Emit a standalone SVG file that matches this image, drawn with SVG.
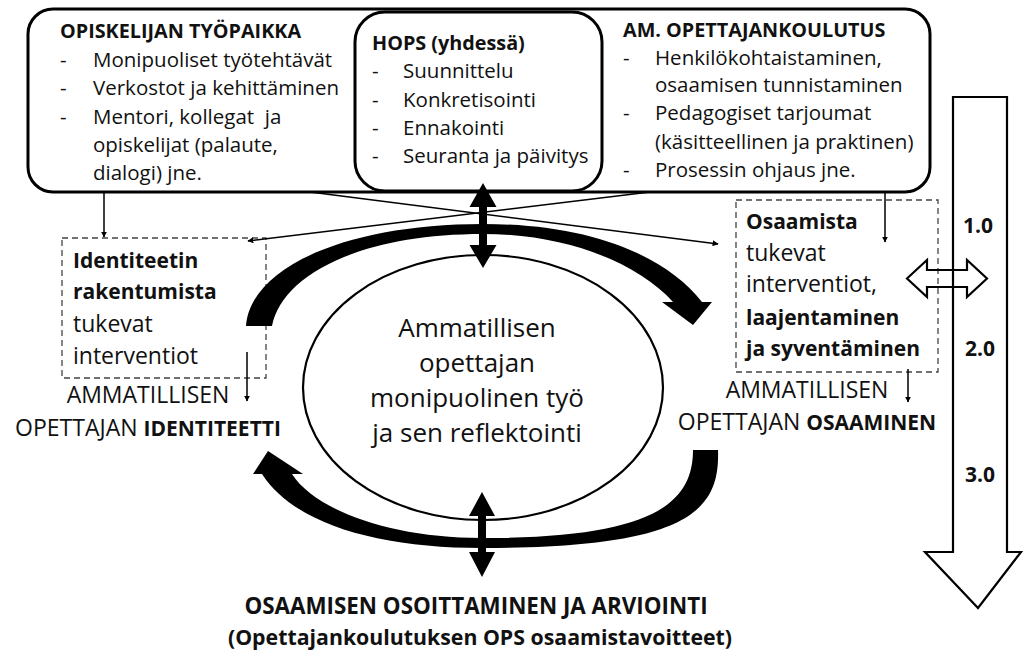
<svg xmlns="http://www.w3.org/2000/svg" width="1024" height="652" viewBox="0 0 1024 652">
<style>
text{font-family:"Open Sans","Noto Sans","DejaVu Sans",sans-serif;fill:#111}
.hd{font-size:19.8px;font-weight:bold}
.it{font-size:20.5px}
.md{font-size:23px}
.mb{font-size:21px;font-weight:bold}
.ct{font-size:26px}
.bt1{font-size:22.4px;font-weight:bold}
.bt2{font-size:21.3px;font-weight:bold}
.num{font-size:21px;font-weight:bold}
.frame{fill:#fff;stroke:#000;stroke-width:3}
.dash{fill:none;stroke:#444;stroke-width:1.3;stroke-dasharray:6 4}
.thin{fill:none;stroke:#000;stroke-width:1.5}
.solid{fill:#000;stroke:none}
.hollow{fill:none;stroke:#000;stroke-width:2.2;stroke-linejoin:miter}
</style>
<defs>
<marker id="ah" viewBox="0 0 10 10" refX="9" refY="5" markerWidth="6" markerHeight="6" orient="auto" markerUnits="userSpaceOnUse">
<path d="M0,0 L10,5 L0,10 Z" fill="#000"/>
</marker>
</defs>
<rect width="1024" height="652" fill="#fff"/>

<g id="top-frame">
<rect class="frame" x="28" y="9" width="902" height="183" rx="25" ry="25"/>
</g>

<g id="box-workplace">
<text class="hd" x="60" y="38">OPISKELIJAN TYÖPAIKKA</text>
<text class="it" x="60" y="67">-</text><text class="it" x="93" y="67">Monipuoliset työtehtävät</text>
<text class="it" x="60" y="95">-</text><text class="it" x="93" y="95">Verkostot ja kehittäminen</text>
<text class="it" x="60" y="124">-</text><text class="it" x="93" y="124" xml:space="preserve">Mentori, kollegat  ja</text>
<text class="it" x="93" y="152">opiskelijat (palaute,</text>
<text class="it" x="93" y="180">dialogi) jne.</text>
</g>

<g id="box-hops">
<rect class="frame" x="355" y="12" width="247" height="179" rx="30" ry="30"/>
<text class="hd" x="372" y="50">HOPS (yhdessä)</text>
<text class="it" x="372" y="78">-</text><text class="it" x="403" y="78">Suunnittelu</text>
<text class="it" x="372" y="107">-</text><text class="it" x="403" y="107">Konkretisointi</text>
<text class="it" x="372" y="135">-</text><text class="it" x="403" y="135">Ennakointi</text>
<text class="it" x="372" y="163">-</text><text class="it" x="403" y="163">Seuranta ja päivitys</text>
</g>

<g id="box-training">
<text class="hd" x="623" y="37">AM. OPETTAJANKOULUTUS</text>
<text class="it" x="623" y="65">-</text><text class="it" x="655" y="65">Henkilökohtaistaminen,</text>
<text class="it" x="655" y="92">osaamisen tunnistaminen</text>
<text class="it" x="623" y="120">-</text><text class="it" x="655" y="120">Pedagogiset tarjoumat</text>
<text class="it" x="655" y="149">(käsitteellinen ja praktinen)</text>
<text class="it" x="623" y="177">-</text><text class="it" x="655" y="177">Prosessin ohjaus jne.</text>
</g>

<g id="box-identity">
<rect class="dash" x="62" y="238" width="204" height="140"/>
<text class="mb" x="73" y="268">Identiteetin</text>
<text class="mb" x="73" y="299">rakentumista</text>
<text class="md" x="73" y="332">tukevat</text>
<text class="md" x="73" y="364">interventiot</text>
</g>

<g id="box-competence">
<rect class="dash" x="736" y="200" width="202" height="172"/>
<text class="mb" x="746" y="229">Osaamista</text>
<text class="md" x="746" y="261">tukevat</text>
<text class="md" x="746" y="292">interventiot,</text>
<text class="mb" x="746" y="325">laajentaminen</text>
<text class="mb" x="746" y="356">ja syventäminen</text>
</g>

<g id="label-identity">
<text class="md" x="148" y="403" text-anchor="middle">AMMATILLISEN</text>
<text class="md" x="148" y="436" text-anchor="middle">OPETTAJAN <tspan class="mb">IDENTITEETTI</tspan></text>
</g>

<g id="label-competence">
<text class="md" x="807" y="398" text-anchor="middle">AMMATILLISEN</text>
<text class="md" x="807" y="430" text-anchor="middle">OPETTAJAN <tspan class="mb">OSAAMINEN</tspan></text>
</g>

<g id="center">
<ellipse cx="483" cy="387.5" rx="180" ry="132.5" fill="none" stroke="#000" stroke-width="2.2"/>
<text class="ct" x="477" y="337" text-anchor="middle">Ammatillisen</text>
<text class="ct" x="477" y="372" text-anchor="middle">opettajan</text>
<text class="ct" x="477" y="407" text-anchor="middle">monipuolinen työ</text>
<text class="ct" x="477" y="442" text-anchor="middle">ja sen reflektointi</text>
</g>

<g id="bottom-label">
<text class="bt1" x="476" y="614" text-anchor="middle">OSAAMISEN OSOITTAMINEN JA ARVIOINTI</text>
<text class="bt2" x="480" y="645" text-anchor="middle">(Opettajankoulutuksen OPS osaamistavoitteet)</text>
</g>

<g id="scale-arrow">
<polygon class="hollow" points="953,97 1007,97 1007,552 1021,552 978,608 925,552 953,552"/>
<text class="num" x="963" y="233">1.0</text>
<text class="num" x="965" y="356">2.0</text>
<text class="num" x="965" y="482">3.0</text>
</g>

<g id="connectors">
<line class="thin" x1="104" y1="193" x2="104" y2="237" marker-end="url(#ah)"/>
<line class="thin" x1="885" y1="193" x2="885" y2="242" marker-end="url(#ah)"/>
<line class="thin" x1="310" y1="192" x2="718" y2="244" marker-end="url(#ah)"/>
<line class="thin" x1="650" y1="192" x2="248" y2="241" marker-end="url(#ah)"/>
<line class="thin" x1="247" y1="352" x2="247" y2="401" marker-end="url(#ah)"/>
<line class="thin" x1="908" y1="369" x2="908" y2="402" marker-end="url(#ah)"/>
<path class="solid" d="M246,326 C250,268 345,224 483,224 C590,224 665,255 702,302 L712,302 L693,325 L662,302 L673,302 C640,265 570,234 483,234 C360,234 282,275 272,326 Z"/>
<path class="solid" d="M718,450 C720,510 690,548 482,548 C380,548 295,525 262,474 L253,474 L268,451 L303,474 L292,474 C315,510 390,538 482,538 C650,538 693,505 693,450 Z"/>
<polygon class="solid" points="483,183 496.5,207 487,207 487,245 496.5,245 483,268 469.5,245 479,245 479,207 469.5,207"/>
<polygon class="solid" points="482,492 495,516 486,516 486,552 495,552 482,577 469,552 478,552 478,516 469,516"/>
<polygon class="hollow" points="907,278.5 927,260 927,270 967,270 967,260 987,278.5 967,297 967,287 927,287 927,297"/>
</g>
</svg>
